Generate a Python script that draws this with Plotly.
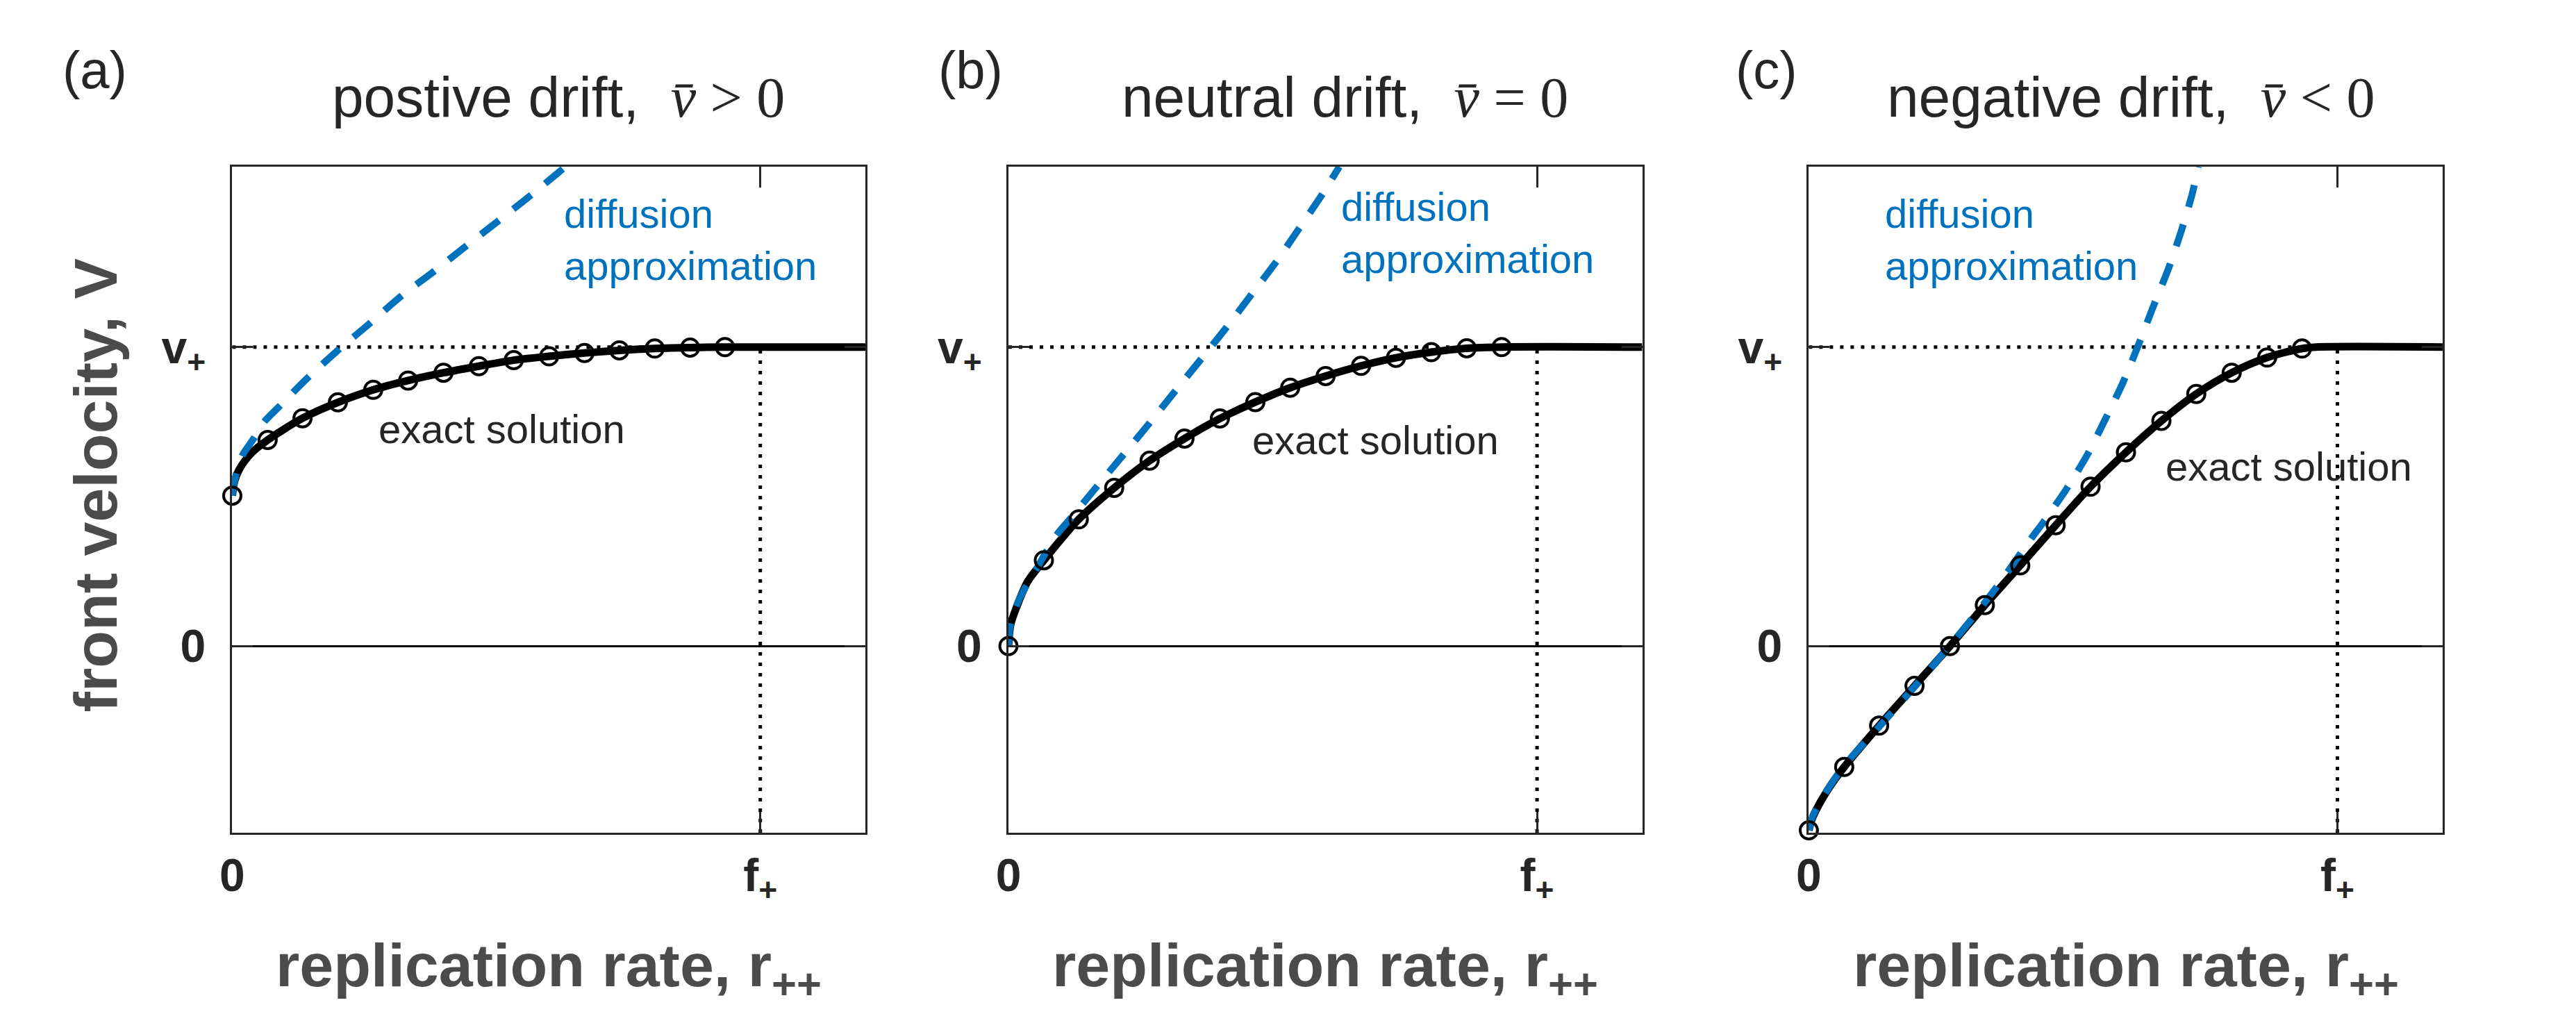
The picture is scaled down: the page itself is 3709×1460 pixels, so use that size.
import plotly.graph_objects as go

# ── Data (units: r in f+, V in v+) ────────────────────────────────────────────
f_plus = 1.0
v_plus = 1.0
r_max = 1.199
v_min = -0.624
v_max = 1.603

r_markers = [0, 0.067, 0.133, 0.2, 0.267, 0.333, 0.4, 0.467, 0.533, 0.6, 0.667, 0.733, 0.8, 0.867, 0.933]
v_markers_a = [0.503, 0.689, 0.762, 0.815, 0.857, 0.888, 0.914, 0.936, 0.956, 0.969, 0.980, 0.989, 0.995, 0.998, 1.0]
v_markers_b = [0.0, 0.287, 0.424, 0.529, 0.620, 0.694, 0.761, 0.816, 0.864, 0.903, 0.937, 0.964, 0.983, 0.996, 1.0]
v_markers_c = [-0.616, -0.404, -0.266, -0.133, 0.0, 0.137, 0.270, 0.404, 0.533, 0.648, 0.753, 0.843, 0.914, 0.965, 0.995]

exact_r_a = [0, 0.004, 0.013, 0.036, 0.067, 0.133, 0.2, 0.267, 0.333, 0.4, 0.467, 0.533, 0.6, 0.667, 0.733, 0.8, 0.867, 0.933, 1.199]
exact_v_a = [0.503, 0.550, 0.590, 0.645, 0.689, 0.762, 0.815, 0.857, 0.888, 0.914, 0.936, 0.956, 0.969, 0.980, 0.989, 0.995, 0.998, 1.0, 1.0]
exact_r_b = [0, 0.004, 0.014, 0.036, 0.067, 0.133, 0.2, 0.267, 0.333, 0.4, 0.467, 0.533, 0.6, 0.667, 0.733, 0.8, 0.867, 0.933, 1.199]
exact_v_b = [0.0, 0.071, 0.124, 0.215, 0.287, 0.424, 0.529, 0.620, 0.694, 0.761, 0.816, 0.864, 0.903, 0.937, 0.964, 0.983, 0.996, 1.0, 1.0]
exact_r_c = [0, 0.004, 0.013, 0.036, 0.067, 0.133, 0.2, 0.267, 0.333, 0.4, 0.467, 0.533, 0.6, 0.667, 0.733, 0.8, 0.867, 0.933, 0.96, 1.199]
exact_v_c = [-0.616, -0.588, -0.551, -0.480, -0.404, -0.266, -0.133, 0.0, 0.137, 0.270, 0.404, 0.533, 0.648, 0.753, 0.843, 0.914, 0.965, 0.995, 1.0, 1.0]

diff_r_a = [0, 0.004, 0.018, 0.041, 0.060, 0.090, 0.144, 0.202, 0.261, 0.319, 0.382, 0.443, 0.504, 0.565, 0.631]
diff_v_a = [0.503, 0.550, 0.634, 0.695, 0.749, 0.803, 0.899, 0.992, 1.080, 1.169, 1.253, 1.338, 1.422, 1.507, 1.603]
diff_r_b = [0, 0.004, 0.014, 0.029, 0.051, 0.090, 0.118, 0.168, 0.218, 0.268, 0.316, 0.365, 0.413, 0.459, 0.507, 0.550, 0.593, 0.626]
diff_v_b = [0.0, 0.075, 0.130, 0.187, 0.252, 0.369, 0.428, 0.535, 0.641, 0.748, 0.854, 0.961, 1.067, 1.174, 1.286, 1.397, 1.509, 1.603]
diff_r_c = [0, 0.004, 0.013, 0.036, 0.067, 0.137, 0.204, 0.270, 0.337, 0.375, 0.4165, 0.444, 0.487, 0.527, 0.559, 0.594, 0.622, 0.650, 0.682, 0.705, 0.725, 0.737]
diff_v_c = [-0.616, -0.585, -0.548, -0.478, -0.400, -0.262, -0.128, 0.008, 0.155, 0.245, 0.350, 0.415, 0.524, 0.640, 0.752, 0.880, 1.000, 1.128, 1.270, 1.390, 1.510, 1.603]

panel_letters = ["(a)", "(b)", "(c)"]
panel_titles = ["postive drift,", "neutral drift,", "negative drift,"]
panel_signs = ["&gt;", "=", "&lt;"]
x_ticktext = ["0", "f<sub>+</sub>"]
y_ticktext = ["0", "v<sub>+</sub>"]

# label anchors (data units of each panel)
diff_label_xy = [(0.626, 1.36), (0.627, 1.383), (0.141, 1.36)]
exact_label_xy = [(0.274, 0.726), (0.458, 0.689), (0.672, 0.601)]

# ── Styling ───────────────────────────────────────────────────────────────────
W, H = 3709, 1460
FONT = "Liberation Sans"
TXT = "#262626"
BLUE = "#0072BD"
LABEL_GREY = "#4b4b4b"

x_domains = [(318 / W, 1234 / W), (1441 / W, 2358 / W), (2599 / W, 3516 / W)]
y_domain = (1 - 1199 / H, 1 - 240 / H)

panels = [
    (exact_r_a, exact_v_a, diff_r_a, diff_v_a, v_markers_a),
    (exact_r_b, exact_v_b, diff_r_b, diff_v_b, v_markers_b),
    (exact_r_c, exact_v_c, diff_r_c, diff_v_c, v_markers_c),
]

fig = go.Figure()
annotations = []

for i, (er, ev, dr, dv, mv) in enumerate(panels):
    sfx = "" if i == 0 else str(i + 1)
    xa, ya = "x" + sfx, "y" + sfx

    # dotted guides at v+ and f+
    fig.add_trace(go.Scatter(
        x=[0, r_max], y=[v_plus, v_plus], xaxis=xa, yaxis=ya, mode="lines",
        line=dict(color="black", width=5, dash="5px,10px"), hoverinfo="skip",
    ))
    fig.add_trace(go.Scatter(
        x=[f_plus, f_plus], y=[v_min, v_plus], xaxis=xa, yaxis=ya, mode="lines",
        line=dict(color="black", width=5, dash="5px,10px"), hoverinfo="skip",
    ))
    # exact solution
    fig.add_trace(go.Scatter(
        x=er, y=ev, xaxis=xa, yaxis=ya, mode="lines",
        line=dict(color="black", width=11, shape="spline", smoothing=0.8),
    ))
    # diffusion approximation
    fig.add_trace(go.Scatter(
        x=dr, y=dv, xaxis=xa, yaxis=ya, mode="lines",
        line=dict(color=BLUE, width=10, dash="33px,26px", shape="spline", smoothing=0.8),
    ))
    # simulation markers
    fig.add_trace(go.Scatter(
        x=r_markers, y=mv, xaxis=xa, yaxis=ya, mode="markers", cliponaxis=False,
        marker=dict(symbol="circle-open", size=25, color="black", line=dict(width=4, color="black")),
    ))

    axis_common = dict(
        showline=True, linecolor=TXT, linewidth=3, mirror="ticks",
        ticks="inside", ticklen=30, tickwidth=3, tickcolor=TXT,
        showgrid=False, tickmode="array",
        tickfont=dict(family=FONT, size=66, color=TXT, weight="bold"),
    )
    fig.layout["xaxis" + sfx] = dict(
        axis_common, domain=x_domains[i], range=[0, r_max], anchor=ya,
        tickvals=[0, f_plus], ticktext=x_ticktext, zeroline=False, ticklabelstandoff=2,
    )
    fig.layout["yaxis" + sfx] = dict(
        axis_common, domain=y_domain, range=[v_min, v_max], anchor=xa,
        tickvals=[0, v_plus], ticktext=y_ticktext, ticklabelstandoff=22,
        zeroline=True, zerolinecolor="black", zerolinewidth=2.5,
    )

    x0, x1 = x_domains[i]
    # panel letter
    letter_x = [119 / W, 1386 / W, 2538 / W][i]
    annotations.append(dict(
        text=panel_letters[i], xref="paper", yref="paper", x=letter_x, y=1 - 100 / H,
        showarrow=False, xanchor="center", yanchor="middle",
        font=dict(family=FONT, size=76, color=TXT),
    ))
    # panel title
    title_pos = [0.515, 0.531, 0.509][i]
    annotations.append(dict(
        text=(panel_titles[i] + '  <span style="font-family:Liberation Serif"><i>v\u0304</i> '
              + panel_signs[i] + ' 0</span>'),
        xref="paper", yref="paper", x=x0 + title_pos * (x1 - x0), y=1 - 140 / H,
        showarrow=False, xanchor="center", yanchor="middle",
        font=dict(family=FONT, size=82, color=TXT),
    ))
    # x axis title
    annotations.append(dict(
        text="replication rate, r<sub>++</sub>", xref="paper", yref="paper",
        x=(x0 + x1) / 2, y=1 - 1395 / H, showarrow=False, xanchor="center", yanchor="middle",
        font=dict(family=FONT, size=88, color=LABEL_GREY, weight="bold"),
    ))
    # curve labels
    dx, dy = diff_label_xy[i]
    annotations.append(dict(
        text="diffusion<br>approximation", xref=xa, yref=ya, x=dx, y=dy,
        showarrow=False, xanchor="left", yanchor="middle", align="left",
        font=dict(family=FONT, size=58, color=BLUE),
    ))
    ex, ey = exact_label_xy[i]
    annotations.append(dict(
        text="exact solution", xref=xa, yref=ya, x=ex, y=ey,
        showarrow=False, xanchor="left", yanchor="middle",
        font=dict(family=FONT, size=58, color=TXT),
    ))

annotations.append(dict(
    text="front velocity, V", xref="paper", yref="paper", x=120 / W, y=1 - 698 / H,
    showarrow=False, xanchor="center", yanchor="middle", textangle=-90,
    font=dict(family=FONT, size=88, color=LABEL_GREY, weight="bold"),
))

fig.update_layout(
    width=W, height=H, showlegend=False,
    margin=dict(l=0, r=0, t=0, b=0),
    paper_bgcolor="white", plot_bgcolor="white",
    font=dict(family=FONT, color=TXT),
    annotations=annotations,
)

# drop the browser's default 8px body margin so the figure sits at the page origin
fig.write_html("out.html", config={"displayModeBar": False},
               post_script="document.body.style.margin='0';")
